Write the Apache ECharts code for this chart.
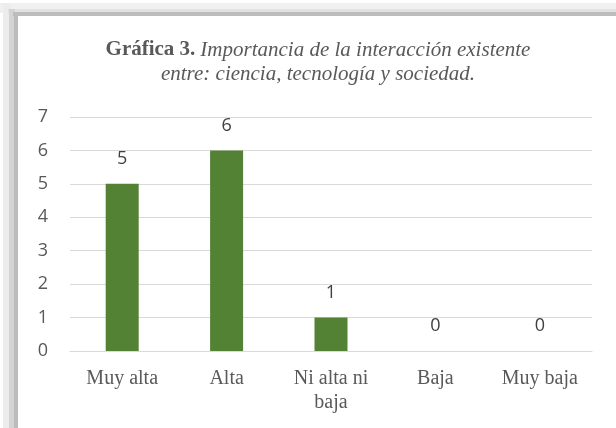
<!DOCTYPE html>
<html>
<head>
<meta charset="utf-8">
<script src="https://cdn.jsdelivr.net/npm/echarts@6/dist/echarts.min.js"></script>
<style>
  html, body { margin: 0; padding: 0; background: #ffffff; }
  #chart { width: 616px; height: 428px; }
</style>
</head>
<body>
<div id="chart"></div>
<script>
// Rating categories and number of responses for each
const categories = ['Muy alta', 'Alta', 'Ni alta ni\nbaja', 'Baja', 'Muy baja'];
const responses = [5, 6, 1, 0, 0];
const yTicks = [0, 1, 2, 3, 4, 5, 6, 7];

const chart = echarts.init(document.getElementById('chart'));

const serif = '"Liberation Serif", "Times New Roman", serif';
const sans = '"Open Sans", "Liberation Sans", sans-serif';

chart.setOption({
  backgroundColor: '#ffffff',
  animation: false,
  graphic: [
    // soft shadow and grey frame along top and left edges
    { type: 'rect', shape: { x: 0, y: 3, width: 616, height: 10 }, style: { fill: '#f0f0f0' }, silent: true },
    { type: 'rect', shape: { x: 3, y: 3, width: 8, height: 425 }, style: { fill: '#ececec' }, silent: true },
    { type: 'rect', shape: { x: 8, y: 9, width: 608, height: 4 }, style: { fill: '#e2e2e2' }, silent: true },
    { type: 'rect', shape: { x: 9, y: 9, width: 6, height: 419 }, style: { fill: '#d4d4d4' }, silent: true },
    { type: 'rect', shape: { x: 13, y: 12, width: 603, height: 4 }, style: { fill: '#bdbdbd' }, silent: true },
    { type: 'rect', shape: { x: 14, y: 13, width: 4, height: 415 }, style: { fill: '#bcbcbc' }, silent: true },
    { type: 'rect', shape: { x: 18, y: 16, width: 598, height: 412 }, style: { fill: '#ffffff' }, silent: true }
  ],
  title: {
    left: 313,
    top: 33,
    textAlign: 'center',
    text: '{b|Gráfica 3.} {i|Importancia de la interacción existente}\n{i|entre: ciencia, tecnología y sociedad.}',
    textStyle: {
      fontWeight: 'normal',
      rich: {
        b: { fontFamily: serif, fontWeight: 'bold', fontSize: 21, color: '#595959', lineHeight: 24 },
        i: { fontFamily: serif, fontStyle: 'italic', fontWeight: 'normal', fontSize: 21, color: '#595959', lineHeight: 24 }
      }
    }
  },
  grid: { left: 70, right: 24, top: 117, bottom: 77 },
  xAxis: {
    type: 'category',
    data: categories,
    axisLine: { show: true, lineStyle: { color: '#d9d9d9', width: 1 } },
    axisTick: { show: false },
    axisLabel: {
      margin: 16,
      fontFamily: serif,
      fontSize: 20,
      lineHeight: 24,
      color: '#595959'
    }
  },
  yAxis: {
    type: 'value',
    min: yTicks[0],
    max: yTicks[yTicks.length - 1],
    interval: 1,
    axisLine: { show: false },
    axisTick: { show: false },
    splitLine: { lineStyle: { color: '#d9d9d9', width: 1 } },
    axisLabel: {
      margin: 22,
      fontFamily: sans,
      fontSize: 18,
      color: '#595959'
    }
  },
  series: [{
    type: 'bar',
    data: responses,
    barWidth: 33,
    itemStyle: { color: '#548235' },
    label: {
      show: true,
      position: 'top',
      distance: 16,
      fontFamily: sans,
      fontSize: 18,
      color: '#404040'
    }
  }]
});
</script>
</body>
</html>
